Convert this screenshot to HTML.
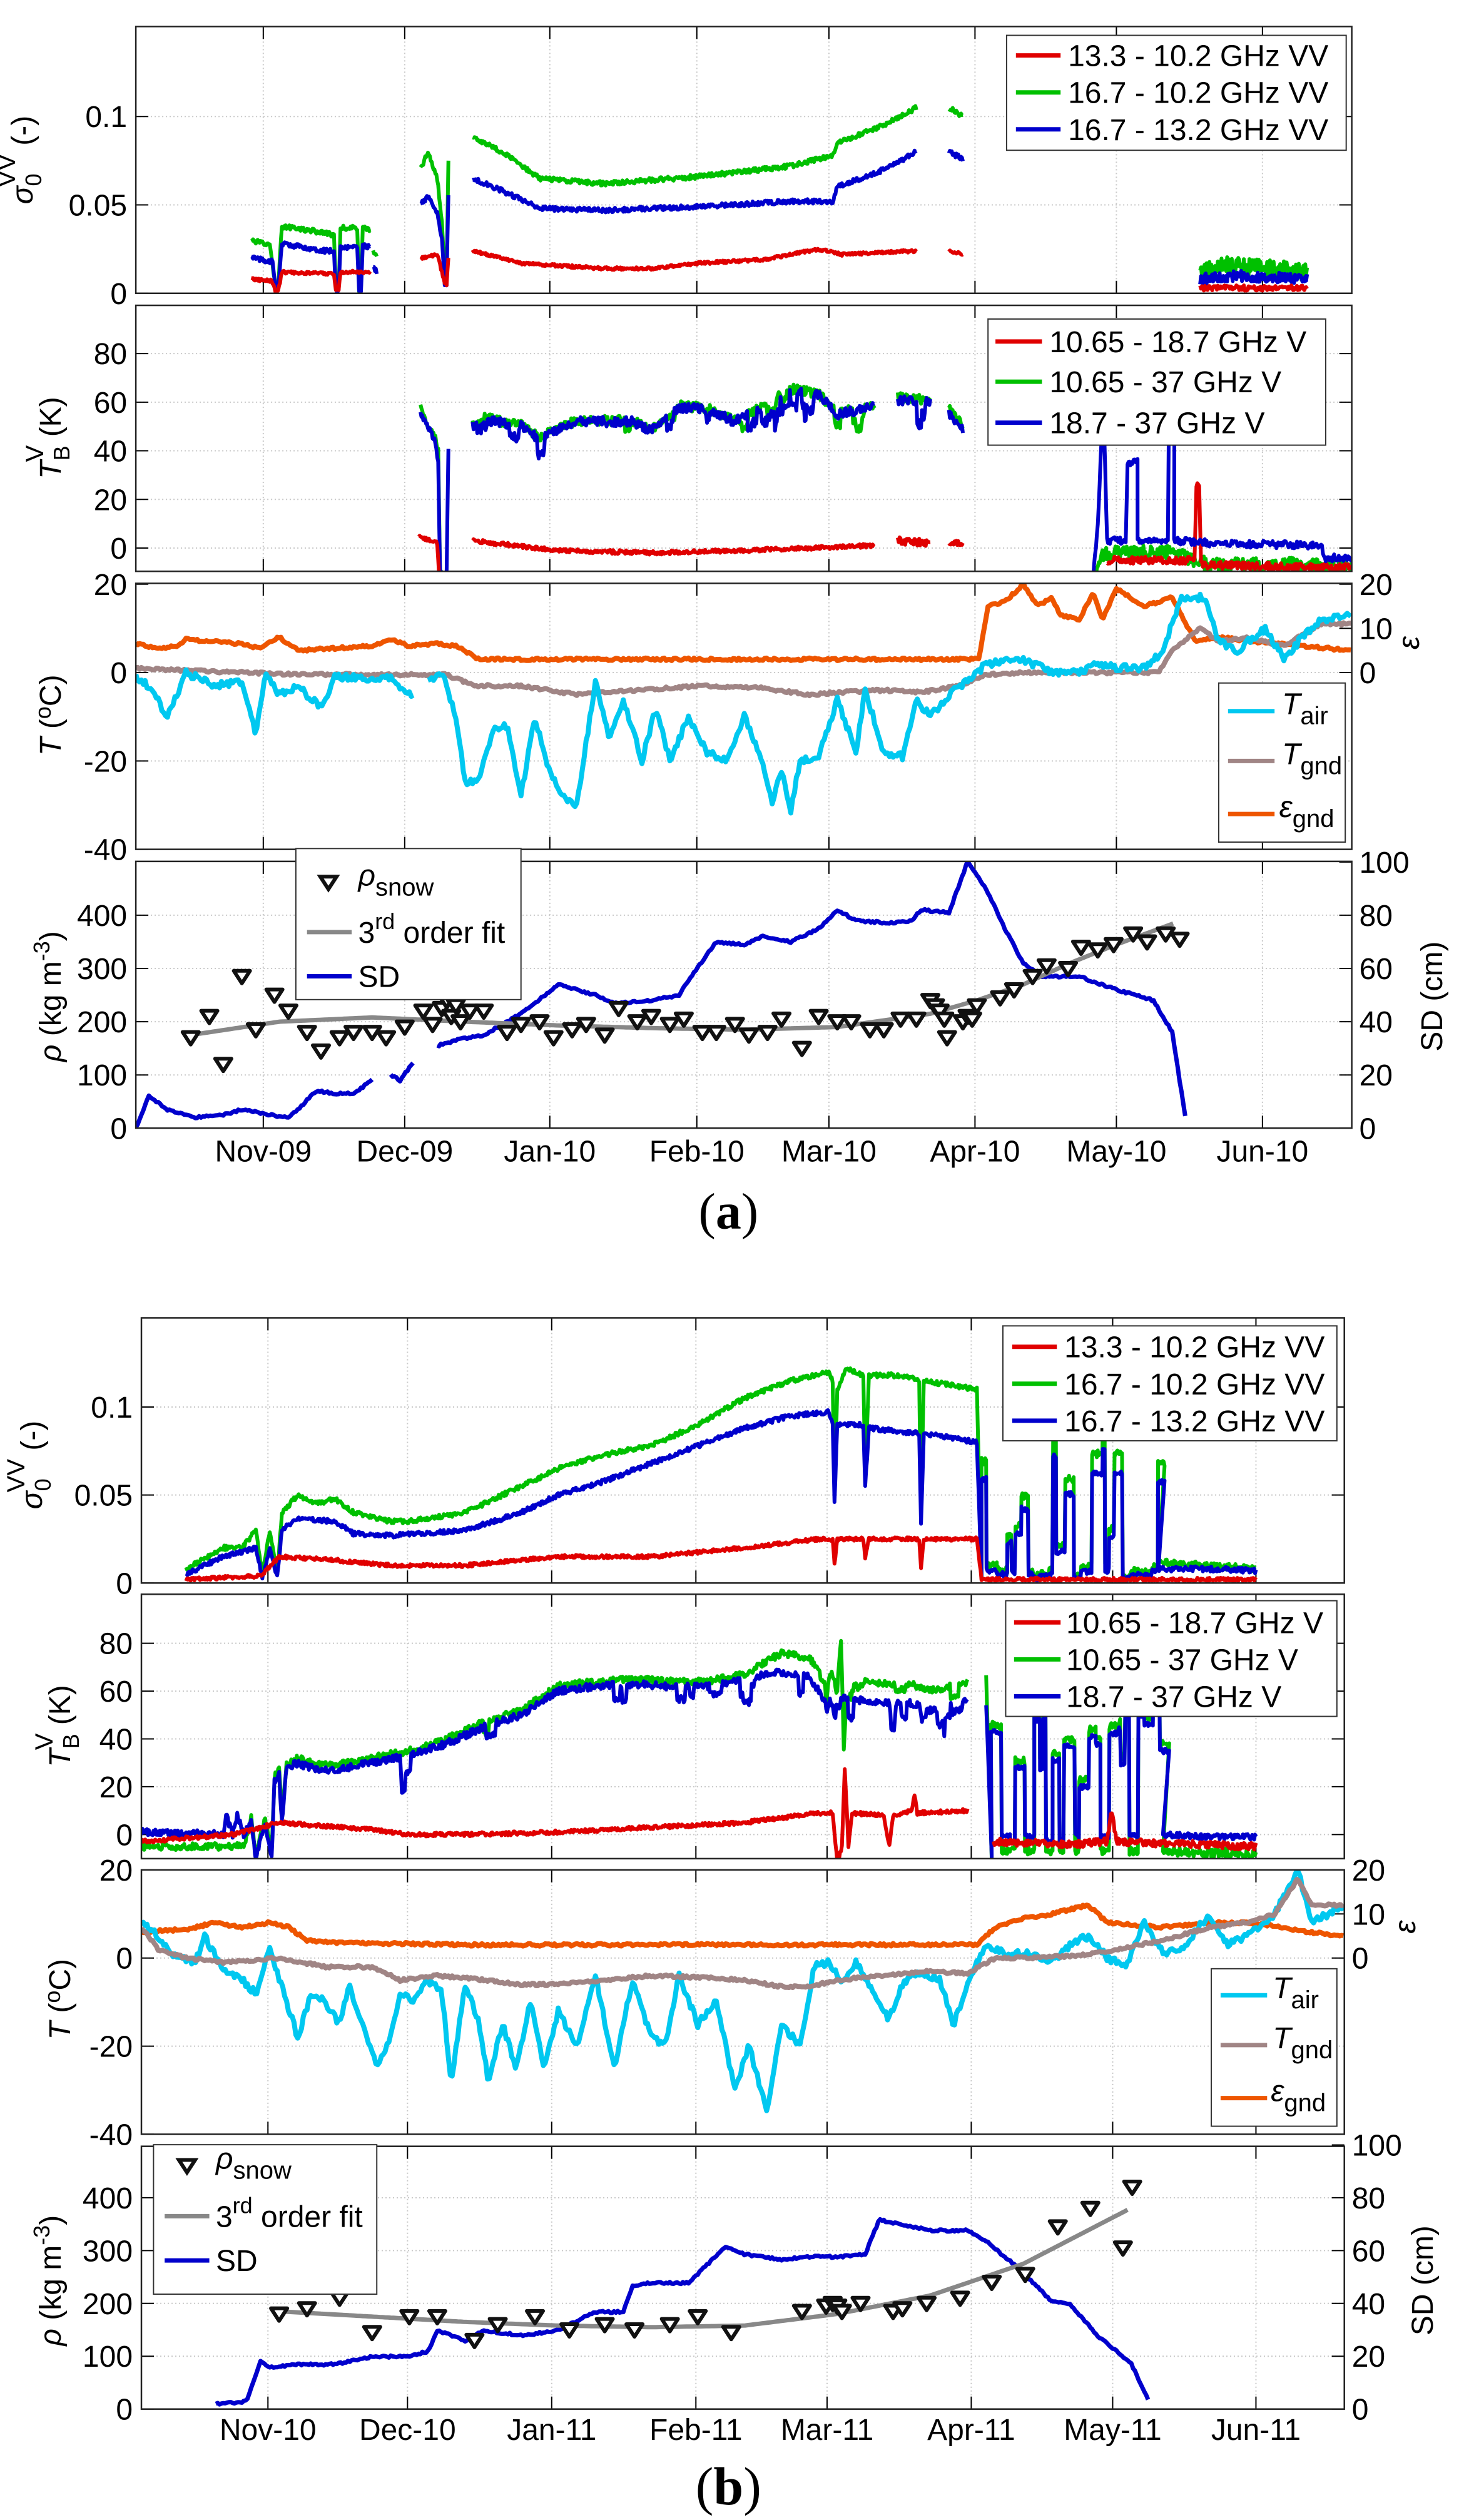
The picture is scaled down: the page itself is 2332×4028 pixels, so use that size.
<!DOCTYPE html>
<html><head><meta charset="utf-8"><style>
html,body{margin:0;padding:0;background:#fff;}
svg{display:block;font-family:"Liberation Sans",sans-serif;}
</style></head><body>
<svg id="s" xmlns="http://www.w3.org/2000/svg" width="2332" height="4028" viewBox="0 0 2332 4028"></svg>
<script>
(function(){
const KX=1.487, KY=1.2844;
const svg=document.getElementById('s');
let out='';
let seed=12345;
function R(){seed|=0;seed=seed+0x6D2B79F5|0;let t=Math.imul(seed^seed>>>15,1|seed);t=t+Math.imul(t^t>>>7,61|t)^t;return((t^t>>>14)>>>0)/4294967296;}
function lin(p,x){if(x<=p[0][0])return p[0][1];for(let i=1;i<p.length;i++){if(x<=p[i][0]){const a=p[i-1],b=p[i];return a[1]+(b[1]-a[1])*(x-a[0])/(b[0]-a[0]);}}return p[p.length-1][1];}
function gen(p,step,noise){const o=[];const x0=p[0][0],x1=p[p.length-1][0];for(let x=x0;x<=x1+1e-9;x+=step)o.push([x,lin(p,x)+noise*(R()*2-1)]);return o;}
function dips(pts,x0,x1,n,depth){for(let k=0;k<n;k++){const c=x0+R()*(x1-x0),w=2+R()*4,d=depth*(0.4+R()*0.6);pts.forEach(q=>{if(Math.abs(q[0]-c)<w)q[1]-=d;});}return pts;}
function X(zx){return zx*KX;}
function mk(x0,x1,yt,yb,p0,v0,p1,v1,off){return {x0,x1,yt,yb,p0,v0,p1,v1,off,id:'c'+Math.floor(R()*1e9)};}
function VY(P,v){return (P.p0+(v-P.v0)*(P.p1-P.p0)/(P.v1-P.v0))*KY+P.off;}
function ZY(P,zy){return zy*KY+P.off;}
function path(P,pts,col,w,extra){if(!pts.length)return;let d='';pts.forEach((q,i)=>{d+=(i?'L':'M')+X(q[0]).toFixed(1)+' '+VY(P,q[1]).toFixed(1);});out+=`<path d="${d}" fill="none" stroke="${col}" stroke-width="${w}" stroke-linejoin="round" ${extra||''} clip-path="url(#${P.id})"/>`;}
function clip(P){out+=`<clipPath id="${P.id}"><rect x="${X(P.x0)}" y="${ZY(P,P.yt)}" width="${X(P.x1)-X(P.x0)}" height="${(P.yb-P.yt)*KY}"/></clipPath>`;}
function frame(P,xt,yt,labL,rt,labR){
 const L=X(P.x0),Rr=X(P.x1),T=ZY(P,P.yt),B=ZY(P,P.yb);
 out+=`<rect x="${L}" y="${T}" width="${Rr-L}" height="${B-T}" fill="#fff"/>`;
 clip(P);
 xt.forEach(zx=>{const x=X(zx);out+=`<line x1="${x}" y1="${T}" x2="${x}" y2="${B}" stroke="#c8c8c8" stroke-width="2" stroke-dasharray="2,4"/>`;out+=`<line x1="${x}" y1="${B}" x2="${x}" y2="${B-20}" stroke="#000" stroke-width="2"/><line x1="${x}" y1="${T}" x2="${x}" y2="${T+20}" stroke="#000" stroke-width="2"/>`;});
 yt.forEach(v=>{const y=VY(P,v);if(y>T+2&&y<B-2)out+=`<line x1="${L}" y1="${y}" x2="${Rr}" y2="${y}" stroke="#c8c8c8" stroke-width="2" stroke-dasharray="2,4"/>`;out+=`<line x1="${L}" y1="${y}" x2="${L+20}" y2="${y}" stroke="#000" stroke-width="2"/>`;if(!rt)out+=`<line x1="${Rr}" y1="${y}" x2="${Rr-20}" y2="${y}" stroke="#000" stroke-width="2"/>`;if(labL)out+=`<text x="${L-14}" y="${y+17}" font-size="48" text-anchor="end">${labL(v)}</text>`;});
 if(rt)rt.forEach(q=>{const y=VY(P,q[0]);out+=`<line x1="${Rr}" y1="${y}" x2="${Rr-20}" y2="${y}" stroke="#000" stroke-width="2"/><text x="${Rr+12}" y="${y+17}" font-size="48">${q[1]}</text>`;});
}
function border(P){const L=X(P.x0),Rr=X(P.x1),T=ZY(P,P.yt),B=ZY(P,P.yb);out+=`<rect x="${L}" y="${T}" width="${Rr-L}" height="${B-T}" fill="none" stroke="#222" stroke-width="2.5"/>`;}
function legbox(off,x0,x1,y0,y1){out+=`<rect x="${X(x0)}" y="${y0*KY+off}" width="${X(x1)-X(x0)}" height="${(y1-y0)*KY}" fill="#fff" stroke="#333" stroke-width="2"/>`;}
function legline(off,lx0,lx1,zy,col){const y=zy*KY+off;out+=`<line x1="${X(lx0)}" y1="${y}" x2="${X(lx1)}" y2="${y}" stroke="${col}" stroke-width="7"/>`;}
function legtext(off,tx,zy,txt,fs){out+=`<text x="${X(tx)}" y="${zy*KY+off+17}" font-size="${fs||48}">${txt}</text>`;}
function tri(P,zx,v){const x=X(zx),y=VY(P,v);out+=`<path d="M${x-13} ${y-9}L${x+13} ${y-9}L${x} ${y+11}Z" fill="#fff" stroke="#111" stroke-width="6" stroke-linejoin="round"/>`;}
function vlab(x,y,inner){out+=`<text transform="translate(${x},${y}) rotate(-90)" text-anchor="middle" font-size="48">${inner}</text>`;}
function blocks(x0,x1,fnHigh,fnLow,pHigh){const o=[];let x=x0;let st=false;while(x<x1){const w=2+R()*10;st=R()<(typeof pHigh==='function'?pHigh(x):pHigh);const v=st?fnHigh(x):fnLow(x);o.push({x,w,st,v});x+=w;}return o;}
function blocksToPts(bl,vf,noise){const o=[];bl.forEach(b=>{const v=vf(b);for(let x=b.x;x<b.x+b.w;x+=1)o.push([x,v+noise*(R()*2-1)]);});return o;}

const RED='#e00000',GRN='#00c000',BLU='#0000cc',LB='#00c8f0',GB='#a08585',OR='#ee5500',FG='#888888';
const LW=6, TW=8;

/* ================= FIGURE A ================= */
(function(){
const off=0, x0=146,x1=1453;
const xt=[283,435,591,749,891,1048,1200,1357];
let P=mk(x0,x1,33,365,365,0,145,0.1,off);
frame(P,xt,[0,0.05,0.1],v=>v===0?'0':(v===0.05?'0.05':'0.1'));
const s=0.0013;
path(P,gen([[270,0.03],[290,0.027],[296,0.005],[299,0.005],[303,0.038],[340,0.035],[359,0.033],[361,0.002],[364,0.002],[366,0.037],[384,0.037],[386,0.002],[388,0.002],[390,0.038],[398,0.036]],1,s),GRN,LW);
path(P,gen([[401,0.024],[405,0.02]],1,s),GRN,LW);
path(P,gen([[270,0.02],[293,0.018],[296,0.003],[299,0.003],[303,0.028],[350,0.024],[359,0.024],[361,0.002],[364,0.002],[366,0.026],[384,0.026],[386,0.002],[388,0.002],[390,0.027],[398,0.026]],1,s),BLU,LW);
path(P,gen([[401,0.015],[405,0.012]],1,s),BLU,LW);
path(P,gen([[270,0.008],[292,0.007],[296,0.001],[299,0.001],[303,0.012],[359,0.011],[361,0.002],[364,0.002],[366,0.012],[398,0.012]],1,0.0008),RED,LW);
path(P,gen([[452,0.07],[460,0.08],[470,0.065],[475,0.04],[478,0.01],[480,0.01],[482,0.075]],1,s),GRN,LW);
path(P,gen([[452,0.05],[460,0.055],[470,0.045],[475,0.03],[478,0.005],[480,0.005],[482,0.055]],1,s),BLU,LW);
path(P,gen([[452,0.02],[470,0.022],[475,0.012],[478,0.005],[480,0.005],[482,0.02]],1,0.0008),RED,LW);
path(P,gen([[508,0.088],[540,0.08],[580,0.065],[650,0.062],[750,0.066],[850,0.072],[895,0.078],[900,0.085],[950,0.095],[985,0.105]],1,s),GRN,LW);
path(P,gen([[1020,0.105],[1035,0.1]],1,s),GRN,LW);
path(P,gen([[508,0.065],[540,0.058],[580,0.048],[650,0.047],[750,0.049],[850,0.052],[895,0.052],[900,0.06],[950,0.07],[985,0.08]],1,s),BLU,LW);
path(P,gen([[1020,0.08],[1035,0.076]],1,s),BLU,LW);
path(P,gen([[508,0.024],[560,0.017],[650,0.014],[700,0.014],[750,0.017],[820,0.019],[880,0.025],[905,0.022],[985,0.024]],1,0.0008),RED,LW);
path(P,gen([[1020,0.024],[1035,0.022]],1,0.0008),RED,LW);
path(P,gen([[1290,0.012],[1310,0.016],[1360,0.014],[1405,0.012]],1,0.005),GRN,LW);
path(P,gen([[1290,0.008],[1330,0.01],[1405,0.008]],1,0.003),BLU,LW);
path(P,gen([[1290,0.003],[1405,0.003]],1,0.0015),RED,LW);
border(P);
legbox(off,1082,1447,44,187);
[[69,RED,'13.3 - 10.2 GHz VV'],[115,GRN,'16.7 - 10.2 GHz VV'],[161,BLU,'16.7 - 13.2 GHz VV']].forEach(r=>{legline(off,1092,1140,r[0],r[1]);legtext(off,1148,r[0],r[2]);});
vlab(52,199*KY+off,'<tspan font-style="italic">σ</tspan><tspan font-size="36" dy="14">0</tspan><tspan font-size="40" dx="-22" dy="-42">VV</tspan><tspan dy="28"> (-)</tspan>');

P=mk(x0,x1,380,711,682,0,440,80,off);
frame(P,xt,[0,20,40,60,80],v=>''+v);
path(P,gen([[452,58],[460,50],[468,45],[471,40],[473,-10],[476,-12]],1,1.2),GRN,LW);
path(P,gen([[452,55],[460,50],[468,44],[471,35],[473,-10],[477,-12],[480,-12],[482,40]],1,1.2),BLU,LW);
path(P,gen([[450,5],[470,2],[472,-12]],1,0.8),RED,LW);
const tbB=[[508,50],[520,53],[560,50],[580,45],[620,52],[680,52],[700,48],[730,58],[760,57],[790,52],[830,60],[850,65],[880,63],[900,55],[940,58]];
path(P,dips(gen(tbB.map(q=>[q[0],q[1]+0.5]),1,2),510,940,8,5),GRN,LW);
path(P,dips(gen(tbB,1,2),510,940,14,7),BLU,LW);
path(P,gen([[965,62],[1000,61]],1,2),GRN,LW);path(P,dips(gen([[965,61],[1000,60]],1,2),965,1000,2,6),BLU,LW);
path(P,gen([[1020,58],[1035,50]],1,2),GRN,LW);path(P,gen([[1020,56],[1035,48]],1,2),BLU,LW);
path(P,gen([[508,3],[600,-1],[700,-2],[800,-1],[940,1]],1,0.8),RED,LW);
path(P,gen([[965,3],[1000,2]],1,1.5),RED,LW);path(P,gen([[1020,2],[1035,2]],1,1),RED,LW);
path(P,gen([[1178,-12],[1185,-3],[1200,-2],[1260,-2],[1300,-7],[1453,-7]],1,3),GRN,LW);
path(P,gen([[1190,-5],[1284,-5],[1286,26],[1289,26],[1291,-7],[1453,-8]],1,1.5),RED,LW);
let bp=gen([[1175,-12],[1180,10],[1184,45],[1187,45],[1190,3],[1210,3]],1,1.5);
let bl=blocks(1212,1262,x=>20+R()*30,x=>3,0.55);
bp=bp.concat(blocksToPts(bl,b=>b.v,1));
bp=bp.concat(gen([[1262,3],[1300,2],[1420,1],[1425,-4],[1453,-4]],1,1.5));
path(P,bp,BLU,LW);
border(P);
legbox(off,1062,1425,397,554);
[[425,RED,'10.65 - 18.7 GHz V'],[475,GRN,'10.65 - 37 GHz V'],[526,BLU,'18.7 - 37 GHz V']].forEach(r=>{legline(off,1070,1120,r[0],r[1]);legtext(off,1128,r[0],r[2]);});
vlab(97,545*KY+off,'<tspan font-style="italic">T</tspan><tspan font-size="36" dy="14">B</tspan><tspan font-size="40" dx="-26" dy="-42">V</tspan><tspan dy="28"> (K)</tspan>');

P=mk(x0,x1,726,1057,727,20,1057,-40,off);
frame(P,xt,[-40,-20,0,20],v=>''+v,[[0,'0'],[10,'10'],[20,'20']]);
path(P,gen([[146,6.5],[170,5.5],[190,6],[200,7.5],[260,6.5],[280,5.5],[300,8],[320,5],[360,5.5],[400,6],[420,7.5],[440,6],[470,6.5],[490,6],[515,3],[600,3],[900,3],[1052,3],[1062,15],[1080,16],[1100,20],[1115,15],[1130,17],[1140,13],[1160,12],[1175,18],[1185,12],[1200,19],[1230,15],[1260,17],[1285,7],[1310,8],[1350,7],[1400,6],[1453,5]],2,0.3),OR,TW);
path(P,gen([[146,1],[200,0.5],[300,-0.3],[400,-0.5],[480,-0.5],[510,-3],[560,-3],[620,-5],[680,-4],[760,-3],[820,-3.5],[870,-5],[900,-4.5],[950,-4],[990,-4.5],[1030,-3],[1060,-0.5],[1100,0],[1200,0],[1245,0],[1260,5],[1290,10],[1310,7],[1340,8],[1380,6],[1420,11],[1453,11]],2,0.3),GB,TW);
path(P,gen([[146,-1],[160,-3],[180,-10],[200,0],[230,-3],[260,-2],[275,-14],[285,0],[300,-5],[320,-3],[345,-8],[360,-1],[380,-1],[400,-2],[420,-1],[445,-6]],2,0.8),LB,TW);
path(P,gen([[460,-2],[475,0],[490,-10],[500,-25],[515,-24],[530,-13],[545,-12],[560,-28],[575,-10],[590,-22],[605,-28],[620,-30],[640,-2],[655,-15],[670,-6],[690,-20],[705,-8],[720,-20],[740,-10],[760,-18],[780,-20],[800,-10],[820,-20],[830,-30],[840,-22],[850,-31],[860,-20],[880,-19],[900,-6],[920,-18],[930,-4],[950,-18],[970,-19],[985,-6],[1000,-10],[1020,-5],[1040,-2],[1060,2],[1100,3],[1130,0],[1160,0],[1180,2],[1200,1],[1230,1],[1250,5],[1270,17],[1295,17],[1310,7],[1330,5],[1360,10],[1380,3],[1400,8],[1420,12],[1453,13]],2,0.8),LB,TW);
border(P);
legbox(off,1310,1446,850,1048);
legline(off,1320,1370,885,LB);out+=`<text x="${X(1378)}" y="${885*KY+off+5}" font-size="48"><tspan font-style="italic">T</tspan><tspan font-size="40" dy="16">air</tspan></text>`;
legline(off,1320,1370,947,GB);out+=`<text x="${X(1378)}" y="${947*KY+off+5}" font-size="48"><tspan font-style="italic">T</tspan><tspan font-size="40" dy="16">gnd</tspan></text>`;
legline(off,1320,1370,1013,OR);out+=`<text x="${X(1375)}" y="${1013*KY+off+5}" font-size="48"><tspan font-style="italic">ε</tspan><tspan font-size="40" dy="16">gnd</tspan></text>`;
vlab(97,890*KY+off,'<tspan font-style="italic">T</tspan> (<tspan font-size="36" dy="-16">o</tspan><tspan dy="16">C)</tspan>');
vlab(2268,800*KY+off,'<tspan font-style="italic">ε</tspan>');

P=mk(x0,x1,1072,1404,1404,0,1139,400,off);
frame(P,xt,[0,100,200,300,400],v=>''+v,[[0,'0'],[100,'20'],[200,'40'],[300,'60'],[400,'80'],[500,'100']]);
const sd=v=>v*5.0;
path(P,gen([[146,0],[160,12],[180,7],[210,4],[240,5],[260,7],[275,6],[290,5],[310,4],[320,7],[340,14],[360,13],[380,13],[400,18]].map(q=>[q[0],sd(q[1])]),2,2),BLU,7);
path(P,gen([[420,20],[430,18],[445,25]].map(q=>[q[0],sd(q[1])]),2,2),BLU,7);
path(P,gen([[470,31],[490,33],[520,35],[560,43],[600,54],[620,52],[640,50],[660,47],[700,48],[730,50],[745,58],[770,70],[800,69],[820,72],[850,70],[880,75],[900,82],[920,78],[960,77],[980,78],[990,82],[1020,81],[1040,100],[1060,90],[1080,75],[1100,62],[1120,57],[1160,57],[1200,52],[1240,48],[1260,36],[1275,2]].map(q=>[q[0],sd(q[1])]),2,2),BLU,7);
path(P,gen([[205,175],[300,200],[400,208],[500,200],[600,193],[700,188],[800,185],[900,190],[1000,215],[1050,240],[1100,270],[1150,310],[1200,345],[1262,385]],3,0),FG,7);
[[205,170],[225,210],[240,120],[260,285],[275,185],[295,250],[310,220],[330,180],[345,145],[365,170],[380,180],[400,180],[415,170],[435,190],[455,220],[465,195],[475,225],[480,240],[485,210],[490,230],[495,200],[505,220],[520,220],[545,180],[560,195],[580,200],[595,170],[615,185],[630,195],[650,175],[665,225],[685,200],[700,210],[720,195],[735,205],[755,180],[770,180],[790,195],[805,175],[825,180],[840,205],[862,150],[880,210],[900,200],[915,200],[935,185],[950,185],[968,205],[985,205],[1000,240],[1005,230],[1010,220],[1015,205],[1018,170],[1035,200],[1040,210],[1045,205],[1050,230],[1075,245],[1090,260],[1110,285],[1125,305],[1148,300],[1162,340],[1180,335],[1197,345],[1218,365],[1233,350],[1253,365],[1268,355]].forEach(q=>tri(P,q[0],q[1]));
border(P);
legbox(off,318,560,1056,1244);
out+=`<path d="M${X(353)-13} ${1098*KY-9}L${X(353)+13} ${1098*KY-9}L${X(353)} ${1098*KY+11}Z" fill="#fff" stroke="#111" stroke-width="6"/>`;
out+=`<text x="${X(385)}" y="${1098*KY+off+5}" font-size="48"><tspan font-style="italic">ρ</tspan><tspan font-size="40" dy="16">snow</tspan></text>`;
legline(off,330,378,1160,FG);out+=`<text x="${X(385)}" y="${1160*KY+off+17}" font-size="48">3<tspan font-size="36" dy="-22">rd</tspan><tspan dy="22"> order fit</tspan></text>`;
legline(off,330,378,1215,BLU);legtext(off,385,1215,'SD');
vlab(97,1240*KY+off,'<tspan font-style="italic">ρ</tspan> (kg m<tspan font-size="36" dy="-18">-3</tspan><tspan dy="18">)</tspan>');
vlab(2305,1240*KY+off,'SD (cm)');
const labs=['Nov-09','Dec-09','Jan-10','Feb-10','Mar-10','Apr-10','May-10','Jun-10'];
xt.forEach((zx,i)=>{out+=`<text x="${X(zx)}" y="${1432*KY+off+17}" font-size="48" text-anchor="middle">${labs[i]}</text>`;});
out+=`<text x="${X(783)}" y="${1510*KY+off+24}" font-size="82" text-anchor="middle" font-family="Liberation Serif,serif">(<tspan font-weight="bold">a</tspan>)</text>`;
})();

/* ================= FIGURE B ================= */
(function(){
const off=2014, x0=152,x1=1445;
const xt=[288,438,593,748,889,1044,1196,1350];
let P=mk(x0,x1,72,402,402,0,183,0.1,off);
frame(P,xt,[0,0.05,0.1],v=>v===0?'0':(v===0.05?'0.05':'0.1'));
const s=0.0013;
let bl=blocks(1055,1245,x=>0.02+R()*0.07,x=>0.003+R()*0.008,0.5);
const gP=gen([[200,0.008],[240,0.02],[260,0.02],[275,0.03],[282,0.005],[290,0.03],[298,0.005],[303,0.04],[320,0.05],[340,0.045],[360,0.048],[380,0.04],[420,0.035],[440,0.035],[500,0.04],[560,0.055],[600,0.065],[650,0.073],[700,0.078],[750,0.09],[800,0.105],[850,0.115],[890,0.12],[895,0.115],[897,0.05],[900,0.11],[910,0.122],[928,0.118],[930,0.06],[934,0.118],[970,0.118],[988,0.115],[990,0.04],[993,0.115],[1050,0.11],[1055,0.005]],1,s)
 .concat(blocksToPts(bl,b=>b.v,0.002)).concat(gen([[1245,0.012],[1300,0.01],[1350,0.008]],1,0.002));
path(P,gP,GRN,LW);
const bP=gen([[200,0.005],[240,0.015],[275,0.02],[282,0.003],[290,0.02],[298,0.003],[303,0.03],[320,0.037],[360,0.035],[380,0.028],[420,0.027],[500,0.03],[560,0.04],[600,0.05],[650,0.058],[700,0.068],[750,0.078],[800,0.088],[850,0.095],[890,0.097],[895,0.09],[897,0.045],[900,0.09],[928,0.09],[930,0.055],[934,0.088],[988,0.085],[990,0.033],[993,0.085],[1050,0.08],[1055,0.003]],1,s)
 .concat(blocksToPts(bl,b=>b.st?b.v*0.85:b.v*0.7,0.0015)).concat(gen([[1245,0.008],[1300,0.008],[1350,0.007]],1,0.0015));
path(P,bP,BLU,LW);
path(P,gen([[200,0.002],[280,0.004],[300,0.015],[360,0.013],[420,0.01],[500,0.01],[600,0.015],[700,0.015],[800,0.02],[880,0.025],[895,0.025],[897,0.01],[900,0.025],[928,0.025],[930,0.014],[934,0.025],[988,0.025],[990,0.008],[993,0.025],[1050,0.025],[1055,0.002],[1350,0.002]],1,0.001),RED,LW);
border(P);
legbox(off,1078,1437,82,225);
[[108,RED,'13.3 - 10.2 GHz VV'],[154,GRN,'16.7 - 10.2 GHz VV'],[200,BLU,'16.7 - 13.2 GHz VV']].forEach(r=>{legline(off,1088,1136,r[0],r[1]);legtext(off,1144,r[0],r[2]);});
vlab(67,255*KY+off,'<tspan font-style="italic">σ</tspan><tspan font-size="36" dy="14">0</tspan><tspan font-size="40" dx="-22" dy="-42">VV</tspan><tspan dy="28"> (-)</tspan>');

P=mk(x0,x1,416,745,715,0,477,80,off);
frame(P,xt,[0,20,40,60,80],v=>''+v);
const bB=[[152,1],[240,0],[243,8],[250,0],[255,8],[262,0],[270,5],[275,-10],[285,5],[292,-10],[295,22],[300,25],[303,5],[308,28],[320,30],[340,27],[360,27],[400,30],[440,33],[480,38],[520,45],[560,50],[580,55],[600,60],[640,62],[680,63],[720,62],[760,62],[800,65],[840,68],[870,66],[880,60],[886,55],[892,62],[900,58],[940,55],[980,55],[1000,52],[1040,56]];
let bl2=blocks(1065,1250,x=>15+R()*40,x=>-3+R()*3,x=>x>1130?0.8:0.5);
const gB=bB.map(q=>[q[0],q[0]<330?(q[0]<270?-5:q[1]+2):q[1]+ (q[0]>820?8:2)]);
gB.splice(gB.length-6,0,[888,58],[900,62],[904,85],[907,38],[910,60],[920,65]);
gB.sort((a,b)=>a[0]-b[0]);
path(P,dips(gen(gB,1,1.5),450,1040,8,5),GRN,LW);
path(P,gen([[1060,66],[1066,-10]],1,1).concat(blocksToPts(bl2,b=>b.st?b.v+3:-7,1.5)).concat(gen([[1250,-7],[1350,-8]],1,2)),GRN,LW);
path(P,dips(gen(bB,1,1.5),420,1040,22,8),BLU,LW);
path(P,gen([[1060,55],[1066,-10]],1,1).concat(blocksToPts(bl2,b=>b.v,1)).concat(gen([[1250,0],[1300,-1],[1350,-1]],1,1.2)),BLU,LW);
path(P,gen([[152,-3],[250,0],[300,5],[400,2],[440,0],[500,0],[600,1],[700,3],[800,5],[880,9],[895,9],[900,-12],[905,-5],[908,28],[912,-5],[916,9],[950,8],[956,-5],[960,8],[980,10],[983,17],[986,9],[1040,10]],1,0.8),RED,LW);
path(P,gen([[1068,-3],[1150,-4],[1190,-3],[1195,10],[1200,-3],[1350,-5]],1,1.5),RED,LW);
border(P);
legbox(off,1081,1437,424,568);
[[451,RED,'10.65 - 18.7 GHz V'],[497,GRN,'10.65 - 37 GHz V'],[543,BLU,'18.7 - 37 GHz V']].forEach(r=>{legline(off,1090,1140,r[0],r[1]);legtext(off,1146,r[0],r[2]);});
vlab(112,580*KY+off,'<tspan font-style="italic">T</tspan><tspan font-size="36" dy="14">B</tspan><tspan font-size="40" dx="-26" dy="-42">V</tspan><tspan dy="28"> (K)</tspan>');

P=mk(x0,x1,759,1088,759,20,1088,-40,off);
frame(P,xt,[-40,-20,0,20],v=>''+v,[[0,'0'],[10,'10'],[20,'20']]);
path(P,gen([[152,6],[200,6.5],[230,8],[260,7],[290,8],[310,7],[330,4],[360,3.5],[500,3],[1000,3],[1050,3],[1070,7],[1100,9],[1130,10],[1170,12],[1190,8],[1250,7],[1300,8],[1350,8],[1400,6],[1445,5]],2,0.3),OR,TW);
path(P,gen([[152,8],[170,5],[190,0],[210,-1],[220,5],[240,-3],[260,-5],[275,-8],[290,2],[305,-8],[320,-18],[335,-8],[350,-10],[365,-15],[375,-6],[390,-15],[405,-25],[420,-18],[430,-8],[445,-10],[460,-5],[475,-8],[485,-28],[500,-6],[515,-15],[525,-28],[540,-15],[555,-25],[570,-10],[585,-25],[600,-12],[620,-20],[640,-4],[660,-25],[680,-5],[700,-18],[715,-20],[730,-4],[750,-15],[770,-10],[790,-30],[805,-20],[825,-35],[840,-15],[860,-20],[875,-2],[890,-1],[905,-5],[920,-1],[940,-8],[955,-14],[970,-6],[990,-3],[1010,-5],[1025,-15],[1045,-3],[1060,3],[1080,1],[1110,1],[1130,-1],[1150,3],[1170,5],[1190,0],[1210,-2],[1230,8],[1250,1],[1270,2],[1300,10],[1320,3],[1340,5],[1370,10],[1395,20],[1410,8],[1445,12]],2,0.8),LB,TW);
path(P,gen([[152,7],[170,2],[200,0],[240,-1],[300,0],[350,-2],[400,-2],[430,-5],[470,-4],[520,-5],[560,-6],[600,-6],[650,-5],[700,-4],[760,-4.5],[800,-5],[840,-6.5],[870,-6.5],[900,-5],[950,-4],[1000,-3],[1040,-3.5],[1070,0],[1100,0],[1160,0.5],[1200,2],[1250,4],[1300,7],[1340,8],[1370,10],[1395,18],[1410,12],[1445,12]],2,0.3),GB,TW);
border(P);
legbox(off,1302,1437,882,1078);
legline(off,1312,1362,915,LB);out+=`<text x="${X(1368)}" y="${915*KY+off+5}" font-size="48"><tspan font-style="italic">T</tspan><tspan font-size="40" dy="16">air</tspan></text>`;
legline(off,1312,1362,977,GB);out+=`<text x="${X(1368)}" y="${977*KY+off+5}" font-size="48"><tspan font-style="italic">T</tspan><tspan font-size="40" dy="16">gnd</tspan></text>`;
legline(off,1312,1362,1043,OR);out+=`<text x="${X(1366)}" y="${1043*KY+off+5}" font-size="48"><tspan font-style="italic">ε</tspan><tspan font-size="40" dy="16">gnd</tspan></text>`;
vlab(112,920*KY+off,'<tspan font-style="italic">T</tspan> (<tspan font-size="36" dy="-16">o</tspan><tspan dy="16">C)</tspan>');
vlab(2262,830*KY+off,'<tspan font-style="italic">ε</tspan>');

P=mk(x0,x1,1103,1430,1430,0,1167,400,off);
frame(P,xt,[0,100,200,300,400],v=>''+v,[[0,'0'],[100,'20'],[200,'40'],[300,'60'],[400,'80'],[500,'100']]);
const sd=v=>v*4.97;
path(P,gen([[232,2],[240,2],[265,3],[280,18],[290,16],[320,17],[360,17],[400,20],[440,20],[460,22],[470,30],[500,26],[520,30],[560,28],[600,30],[640,37],[670,37],[680,47],[700,48],[740,48],[760,55],[780,62],[800,59],[840,57],[870,58],[900,58],[930,59],[945,72],[960,71],[1000,68],[1040,68],[1060,64],[1080,58],[1100,52],[1130,41],[1150,40],[1180,28],[1200,22],[1215,18],[1235,3]].map(q=>[q[0],sd(q[1])]),2,2),BLU,7);
path(P,gen([[300,185],[400,175],[500,165],[600,158],[700,155],[800,158],[900,180],[1000,215],[1100,275],[1213,378]],3,0),FG,7);
[[300,180],[330,190],[365,210],[400,145],[440,175],[470,175],[510,130],[535,160],[575,175],[612,150],[650,160],[682,150],[720,160],[750,175],[786,145],[862,185],[888,195],[895,200],[900,195],[905,185],[925,200],[960,185],[970,190],[996,200],[1032,210],[1066,240],[1102,255],[1137,345],[1172,380],[1207,305],[1217,420]].forEach(q=>tri(P,q[0],q[1]));
border(P);
legbox(off,165,405,1101,1287);
out+=`<path d="M${X(201)-13} ${1127*KY+off-9}L${X(201)+13} ${1127*KY+off-9}L${X(201)} ${1127*KY+off+11}Z" fill="#fff" stroke="#111" stroke-width="6"/>`;
out+=`<text x="${X(232)}" y="${1127*KY+off+5}" font-size="48"><tspan font-style="italic">ρ</tspan><tspan font-size="40" dy="16">snow</tspan></text>`;
legline(off,177,225,1190,FG);out+=`<text x="${X(232)}" y="${1190*KY+off+17}" font-size="48">3<tspan font-size="36" dy="-22">rd</tspan><tspan dy="22"> order fit</tspan></text>`;
legline(off,177,225,1245,BLU);legtext(off,232,1245,'SD');
vlab(97,1270*KY+off,'<tspan font-style="italic">ρ</tspan> (kg m<tspan font-size="36" dy="-18">-3</tspan><tspan dy="18">)</tspan>');
vlab(2290,1270*KY+off,'SD (cm)');
const labs=['Nov-10','Dec-10','Jan-11','Feb-11','Mar-11','Apr-11','May-11','Jun-11'];
xt.forEach((zx,i)=>{out+=`<text x="${X(zx)}" y="${3900}" font-size="48" text-anchor="middle">${labs[i]}</text>`;});
out+=`<text x="${X(783)}" y="4003" font-size="86" text-anchor="middle" font-family="Liberation Serif,serif">(<tspan font-weight="bold">b</tspan>)</text>`;
})();
svg.innerHTML=out;
})();
</script>
</body></html>
